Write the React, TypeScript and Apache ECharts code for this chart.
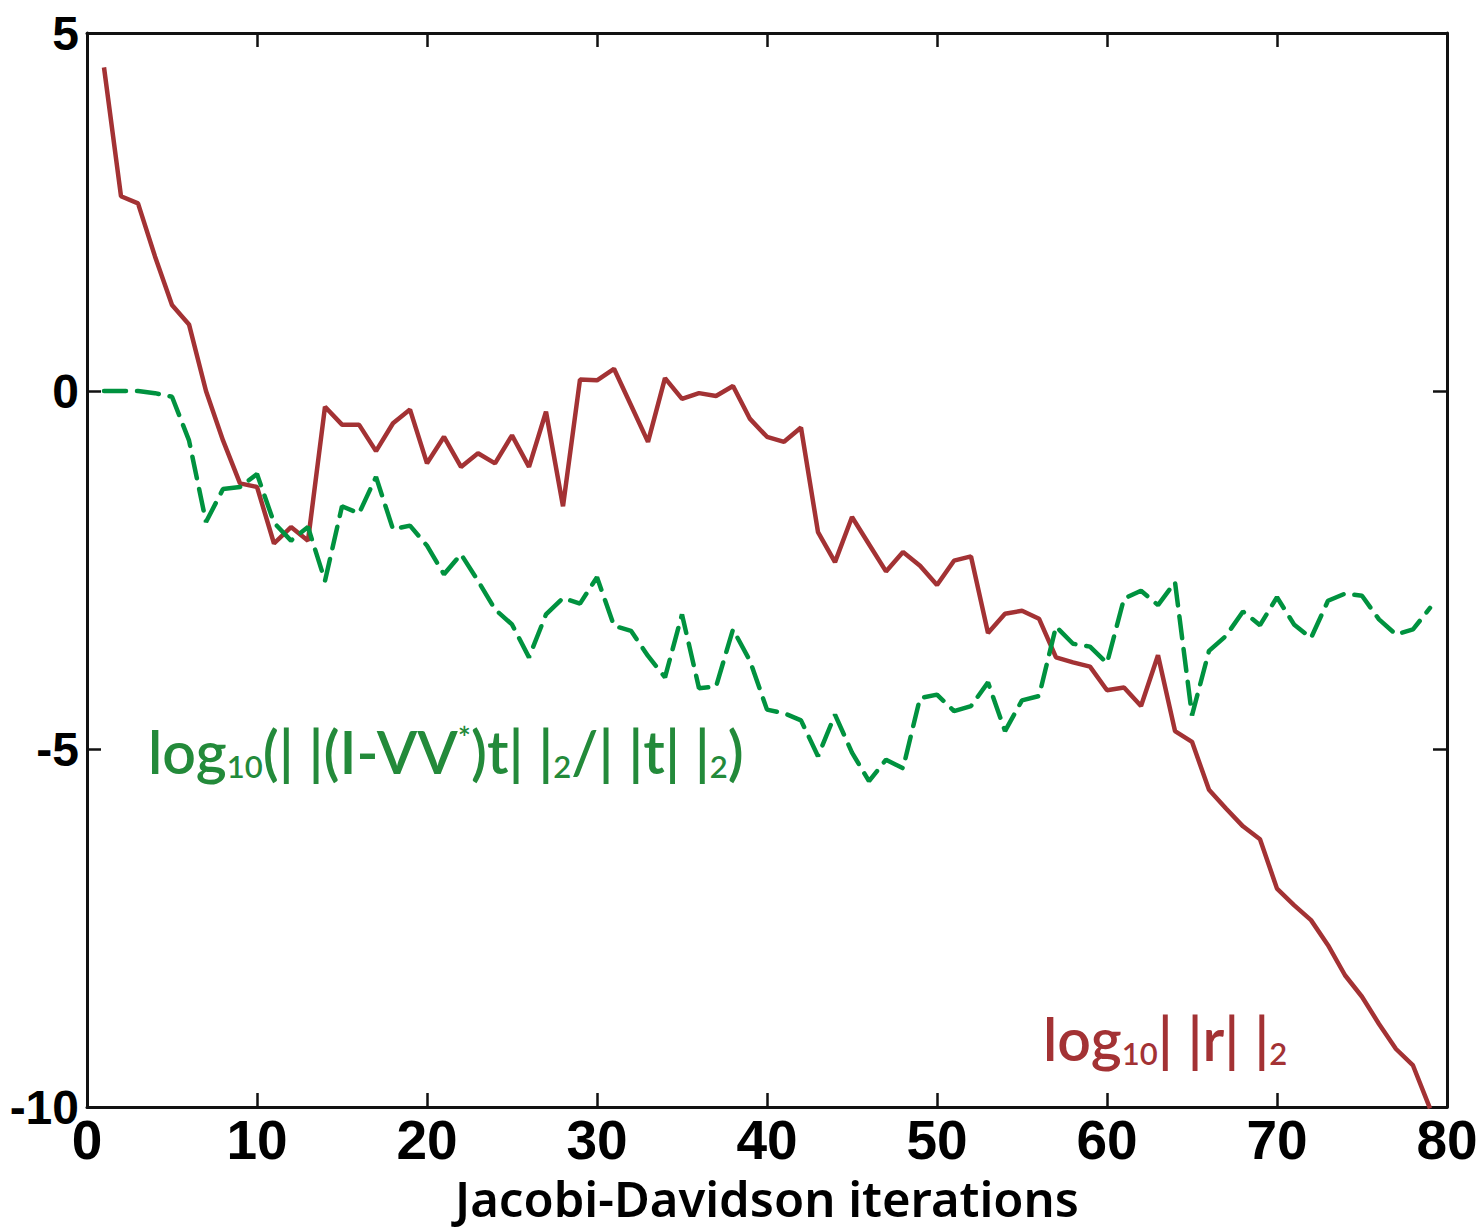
import React, { useEffect, useRef } from "react";
import * as echarts from "echarts";

const iterations: number[] = Array.from({ length: 79 }, (_, i) => i + 1);

const residualLog: number[] = [
  4.52, 2.72, 2.62, 1.88, 1.2, 0.93, 0.0, -0.69, -1.29, -1.34,
  -2.13, -1.9, -2.09, -0.22, -0.47, -0.47, -0.84, -0.45, -0.26, -1.01,
  -0.64, -1.06, -0.87, -1.01, -0.62, -1.06, -0.29, -1.61, 0.16, 0.15,
  0.31, -0.2, -0.71, 0.18, -0.11, -0.03, -0.07, 0.07, -0.39, -0.64,
  -0.71, -0.51, -1.97, -2.39, -1.76, -2.14, -2.52, -2.25, -2.44, -2.71,
  -2.37, -2.31, -3.38, -3.11, -3.07, -3.18, -3.72, -3.79, -3.85, -4.18,
  -4.14, -4.4, -3.69, -4.75, -4.9, -5.57, -5.83, -6.08, -6.26, -6.95,
  -7.18, -7.39, -7.74, -8.16, -8.46, -8.84, -9.19, -9.42, -10.02,
];

const orthoLog: number[] = [
  0, 0, 0, -0.03, -0.08, -0.69, -1.83, -1.37, -1.34, -1.16,
  -1.84, -2.09, -1.9, -2.65, -1.61, -1.71, -1.2, -1.93, -1.88, -2.16,
  -2.56, -2.28, -2.65, -3.05, -3.26, -3.72, -3.12, -2.89, -2.97, -2.6,
  -3.28, -3.35, -3.7, -4.0, -3.12, -4.15, -4.13, -3.33, -3.77, -4.45,
  -4.5, -4.6, -5.1, -4.52, -5.05, -5.45, -5.15, -5.27, -4.29, -4.24,
  -4.47, -4.4, -4.07, -4.75, -4.32, -4.26, -3.29, -3.53, -3.57, -3.8,
  -2.9, -2.79, -2.99, -2.67, -4.53, -3.63, -3.42, -3.08, -3.27, -2.88,
  -3.26, -3.45, -2.93, -2.83, -2.86, -3.19, -3.4, -3.33, -3.03,
];

const xTicks = { min: 0, max: 80, interval: 10 };
const yTicks = { min: -10, max: 5, interval: 5 };

const xAxisTitle = "Jacobi-Davidson iterations";

const RED = "#a33234";
const GREEN_LINE = "#00923f";
const GREEN_TEXT = "#238a3a";
const AXIS = "#111111";
const TICK_FONT = "'Liberation Sans', Arial, sans-serif";
const NAME_FONT = "'Noto Sans', sans-serif";
const LABEL_FONT = "Lato, 'Noto Sans', sans-serif";

export default function App() {
  const ref = useRef<HTMLDivElement>(null);

  useEffect(() => {
    if (!ref.current) return;
    const chart = echarts.init(ref.current, undefined, { renderer: "svg" });

    const axisLine = { show: true, onZero: false, lineStyle: { color: AXIS, width: 3 } };
    const axisTick = { show: true, inside: true, length: 14, lineStyle: { color: AXIS, width: 2.5 } };

    const rich = (color: string) => ({
      m: { fontSize: 59, fontFamily: LABEL_FONT, fontWeight: 600, fill: color, lineHeight: 60, verticalAlign: "middle" },
      s: { fontSize: 31, fontFamily: LABEL_FONT, fontWeight: 600, fill: color, lineHeight: 26, verticalAlign: "bottom" },
      p: { fontSize: 31, fontFamily: LABEL_FONT, fontWeight: 600, fill: color, lineHeight: 30, verticalAlign: "top" },
    });

    chart.setOption({
      animation: false,
      backgroundColor: "#ffffff",
      grid: {
        left: 87,
        right: 35,
        top: 33,
        bottom: 123,
        containLabel: false,
        outerBoundsMode: "none",
      },
      xAxis: [
        {
          type: "value",
          position: "bottom",
          min: xTicks.min,
          max: xTicks.max,
          interval: xTicks.interval,
          axisLine,
          axisTick,
          splitLine: { show: false },
          axisLabel: {
            color: "#000",
            fontSize: 55,
            lineHeight: 50,
            fontWeight: "bold",
            fontFamily: TICK_FONT,
            margin: 8,
          },
          name: xAxisTitle,
          nameLocation: "middle",
          nameGap: 68,
          nameTextStyle: {
            color: "#000",
            fontSize: 49,
            lineHeight: 46,
            fontWeight: 600,
            fontFamily: NAME_FONT,
          },
        },
        {
          type: "value",
          position: "top",
          min: xTicks.min,
          max: xTicks.max,
          interval: xTicks.interval,
          axisLine,
          axisTick,
          splitLine: { show: false },
          axisLabel: { show: false },
        },
      ],
      yAxis: [
        {
          type: "value",
          position: "left",
          min: yTicks.min,
          max: yTicks.max,
          interval: yTicks.interval,
          axisLine,
          axisTick,
          splitLine: { show: false },
          axisLabel: {
            color: "#000",
            fontSize: 48,
            fontWeight: "bold",
            fontFamily: TICK_FONT,
            margin: 8,
          },
        },
        {
          type: "value",
          position: "right",
          min: yTicks.min,
          max: yTicks.max,
          interval: yTicks.interval,
          axisLine,
          axisTick,
          splitLine: { show: false },
          axisLabel: { show: false },
        },
      ],
      series: [
        {
          type: "line",
          name: "residual",
          xAxisIndex: 0,
          yAxisIndex: 0,
          data: iterations.map((x, i) => [x, residualLog[i]]),
          showSymbol: false,
          lineStyle: { color: RED, width: 4.5 },
          itemStyle: { color: RED },
          z: 3,
        },
        {
          type: "line",
          name: "orthogonality",
          xAxisIndex: 0,
          yAxisIndex: 0,
          data: iterations.map((x, i) => [x, orthoLog[i]]),
          showSymbol: false,
          lineStyle: { color: GREEN_LINE, width: 4.5, type: [22, 11], cap: "round" },
          itemStyle: { color: GREEN_LINE },
          z: 4,
        },
      ],
      graphic: [
        {
          type: "text",
          left: 148,
          top: 721,
          style: {
            text: "{m|log}{s|10}{m|(| |(I-VV}{p|*}{m|)t| |}{s|2}{m|/| |t| |}{s|2}{m|)}",
            rich: rich(GREEN_TEXT),
          },
        },
        {
          type: "text",
          left: 1043,
          top: 1009,
          style: {
            text: "{m|log}{s|10}{m|| |r| |}{s|2}",
            rich: rich(RED),
          },
        },
      ],
    });

    return () => chart.dispose();
  }, []);

  return (
    <div
      ref={ref}
      style={{ position: "fixed", left: 0, top: 0, width: 1482, height: 1230 }}
    />
  );
}
